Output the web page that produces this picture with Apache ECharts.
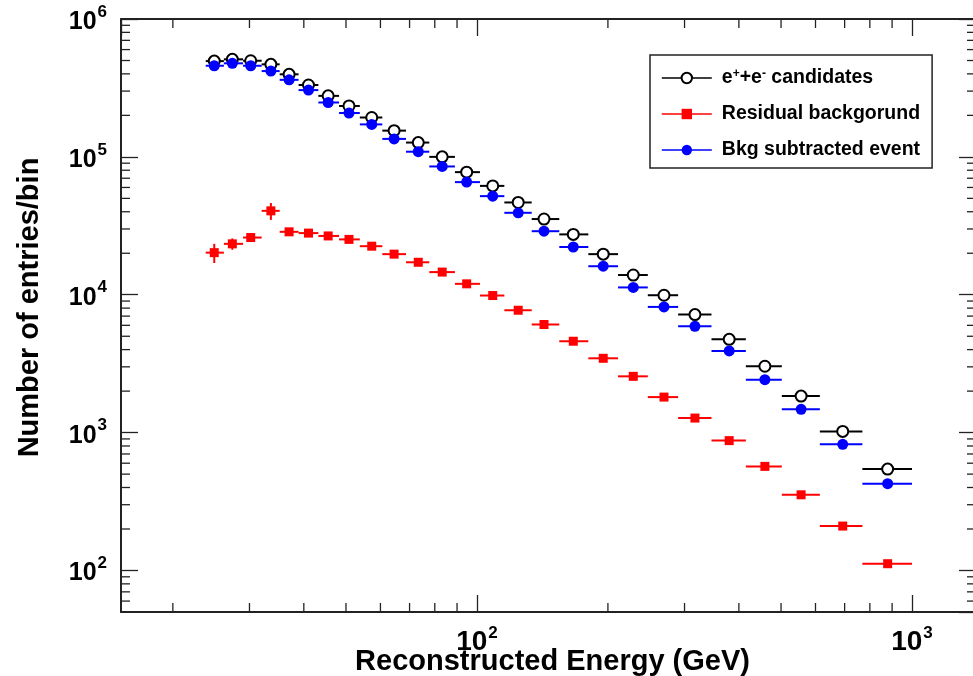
<!DOCTYPE html>
<html>
<head>
<meta charset="utf-8">
<script src="https://cdn.jsdelivr.net/npm/echarts@6/dist/echarts.min.js"></script>
<style>
  html, body { margin: 0; padding: 0; background: #fff; }
  #chart { width: 973px; height: 676px; }
</style>
</head>
<body>
<div id="chart"></div>
<script>
// bin edges and bin centres (GeV)
const binEdges = [23.8, 26.2, 29.0, 32.0, 35.2, 38.9, 43.2, 48.2, 53.8, 60.6, 68.7, 77.7, 89.0,
  101.6, 115.6, 133.6, 154.6, 180.3, 211, 247, 290, 346, 415, 502, 614, 769, 1000]
const binCenters = [24.9, 27.4, 30.2, 33.6, 37.0, 41.0, 45.5, 50.8, 57.3, 64.5, 73.3, 83.2, 94.7,
  108.7, 124.4, 142.6, 166.5, 195.1, 228.7, 269.1, 317, 380, 459, 556, 693, 879]

// entries per bin
const candidates = [495000, 510000, 498000, 469000, 397000, 332000, 277000, 234000, 193000, 155000,
  127000, 100000, 77500, 61600, 46700, 35400, 27400, 19700, 13900, 9920, 7180, 4750, 3030, 1840, 1020, 544]
const residual = [20200, 23400, 26000, 40600, 28600, 28000, 26700, 25200, 22500, 19700, 17200, 14600,
  12000, 9870, 7720, 6085, 4600, 3460, 2560, 1810, 1275, 875, 569, 354, 210, 112]
const residualErr = [3200, 2200, 1750, 5700, 450, 400, 350, 320, 280, 240, 200, 170, 140, 115, 95, 75,
  60, 45, 35, 25, 20, 15, 10, 8, 5, 3]
const subtracted = [458000, 477000, 458000, 419000, 362000, 305000, 248000, 208000, 172000, 135000,
  109000, 85200, 65600, 51900, 39300, 28900, 22200, 16100, 11300, 8160, 5900, 3910, 2420, 1475, 822, 426]

// axis ranges and minor tick positions
const xRange = [15.2, 1403]
const yRange = [50, 1000000]
const minorSteps = [2, 3, 4, 5, 6, 7, 8, 9]
const xDecades = [10, 100]
const yDecades = [10, 100, 1000, 10000, 100000]

const names = ['e+e- candidates', 'Residual backgorund', 'Bkg subtracted event']

const xMinor = []
xDecades.forEach(d => minorSteps.forEach(m => {
  const v = d * m
  if (v > xRange[0] && v < xRange[1]) xMinor.push(v)
}))
const yMinor = []
yDecades.forEach(d => minorSteps.forEach(m => {
  const v = d * m
  if (v > yRange[0] && v < yRange[1]) yMinor.push(v)
}))

function errData(values, errs) {
  return values.map((v, i) => [binCenters[i], v, binEdges[i], binEdges[i + 1], errs ? errs[i] : 0])
}

function errorBars(color, z) {
  return {
    type: 'custom',
    z: z,
    silent: true,
    encode: { x: 0, y: 1 },
    renderItem: function (params, api) {
      const y = api.value(1)
      const a = api.coord([api.value(2), y])
      const b = api.coord([api.value(3), y])
      const children = [{
        type: 'line',
        shape: { x1: a[0], y1: a[1], x2: b[0], y2: b[1] },
        style: { stroke: color, lineWidth: 2 }
      }]
      const e = api.value(4)
      if (e > 0) {
        const lo = api.coord([api.value(0), y - e])
        const hi = api.coord([api.value(0), y + e])
        children.push({
          type: 'line',
          shape: { x1: lo[0], y1: lo[1], x2: hi[0], y2: hi[1] },
          style: { stroke: color, lineWidth: 2 }
        })
      }
      return { type: 'group', children: children }
    }
  }
}

function markers(name, values, symbol, color, size, z) {
  return {
    name: name,
    type: 'line',
    z: z,
    data: values.map((v, i) => [binCenters[i], v]),
    symbol: symbol,
    symbolSize: size,
    showSymbol: true,
    color: color,
    itemStyle: symbol === 'emptyCircle'
      ? { color: color, borderWidth: 1.8 }
      : { color: color },
    lineStyle: { color: color, opacity: 0, width: 2 }
  }
}

function minorTicks(axis) {
  return {
    type: 'custom',
    z: 10,
    silent: true,
    data: axis === 'x' ? xMinor.map(v => [v, 1000]) : yMinor.map(v => [100, v]),
    encode: { x: 0, y: 1 },
    renderItem: function (params, api) {
      const cs = params.coordSys
      const p = api.coord([api.value(0), api.value(1)])
      const len = 9
      const st = { stroke: '#222', lineWidth: 1.3 }
      if (axis === 'x') {
        return { type: 'group', children: [
          { type: 'line', shape: { x1: p[0], y1: cs.y + cs.height, x2: p[0], y2: cs.y + cs.height - len }, style: st },
          { type: 'line', shape: { x1: p[0], y1: cs.y, x2: p[0], y2: cs.y + len }, style: st }
        ] }
      }
      return { type: 'group', children: [
        { type: 'line', shape: { x1: cs.x, y1: p[1], x2: cs.x + len, y2: p[1] }, style: st },
        { type: 'line', shape: { x1: cs.x + cs.width, y1: p[1], x2: cs.x + cs.width - len, y2: p[1] }, style: st }
      ] }
    }
  }
}

const font = 'Liberation Sans, Arial, sans-serif'
function expRich(size) {
  return {
    b: { fontSize: size, fontWeight: 'bold', fontFamily: font, color: '#000', verticalAlign: 'bottom' },
    s: { fontSize: 17, fontWeight: 'bold', fontFamily: font, color: '#000', verticalAlign: 'top', padding: [0, 0, 14, 1] }
  }
}

function expLabel(v) {
  const e = Math.round(Math.log10(v))
  return '{b|10}{s|' + e + '}'
}

const frameLine = { show: true, lineStyle: { color: '#222', width: 2 } }
const majorTick = { show: true, inside: true, length: 17, lineStyle: { color: '#222', width: 1.3 } }

const option = {
  animation: false,
  backgroundColor: '#fff',
  grid: { left: 121, top: 19, width: 855, height: 593, outerBoundsMode: 'none', containLabel: false },
  legend: {
    data: names,
    orient: 'vertical',
    left: 650,
    top: 55,
    padding: [13, 12, 8, 11],
    itemGap: 16,
    itemWidth: 50,
    itemHeight: 13,
    borderColor: '#222',
    borderWidth: 1.5,
    backgroundColor: '#fff',
    lineStyle: { opacity: 1, width: 1.6 },
    formatter: function (name) {
      if (name === names[0]) return 'e{s|+}+e{s|-} candidates'
      return name
    },
    textStyle: {
      fontSize: 19.5,
      fontWeight: 'bold',
      fontFamily: font,
      color: '#000',
      padding: [0, 0, 0, 5],
      rich: {
        s: { fontSize: 12, fontWeight: 'bold', fontFamily: font, color: '#000', verticalAlign: 'top', padding: [0, 0, 8, 0] }
      }
    }
  },
  xAxis: [{
    type: 'log',
    min: xRange[0],
    max: xRange[1],
    name: 'Reconstructed Energy (GeV)',
    nameLocation: 'middle',
    nameGap: 35,
    nameMoveOverlap: false,
    nameTextStyle: { fontSize: 29, fontWeight: 'bold', fontFamily: font, color: '#000', padding: [0, 0, 0, 8] },
    axisLine: frameLine,
    axisTick: majorTick,
    splitLine: { show: false },
    axisLabel: { showMinLabel: false, showMaxLabel: false, margin: 13, formatter: expLabel, rich: expRich(28) }
  }, {
    type: 'log',
    position: 'top',
    min: xRange[0],
    max: xRange[1],
    axisLine: frameLine,
    axisTick: majorTick,
    splitLine: { show: false },
    axisLabel: { show: false }
  }],
  yAxis: [{
    type: 'log',
    min: yRange[0],
    max: yRange[1],
    name: 'Number of entries/bin',
    nameLocation: 'middle',
    nameGap: 77,
    nameMoveOverlap: false,
    nameTextStyle: { fontSize: 29, fontWeight: 'bold', fontFamily: font, color: '#000', padding: [0, 0, 0, 16] },
    axisLine: frameLine,
    axisTick: majorTick,
    splitLine: { show: false },
    axisLabel: { showMinLabel: false, margin: 14, formatter: expLabel, rich: expRich(25) }
  }, {
    type: 'log',
    position: 'right',
    min: yRange[0],
    max: yRange[1],
    axisLine: frameLine,
    axisTick: majorTick,
    splitLine: { show: false },
    axisLabel: { show: false }
  }],
  series: [
    minorTicks('x'),
    minorTicks('y'),
    Object.assign(errorBars('#000', 3), { data: errData(candidates) }),
    markers(names[0], candidates, 'emptyCircle', '#000', 11, 4),
    Object.assign(errorBars('#ff0000', 5), { data: errData(residual, residualErr) }),
    markers(names[1], residual, 'rect', '#ff0000', 9, 6),
    Object.assign(errorBars('#0000ff', 7), { data: errData(subtracted) }),
    markers(names[2], subtracted, 'circle', '#0000ff', 11, 8)
  ]
}

const myChart = echarts.init(document.getElementById('chart'))
myChart.setOption(option)
</script>
</body>
</html>
